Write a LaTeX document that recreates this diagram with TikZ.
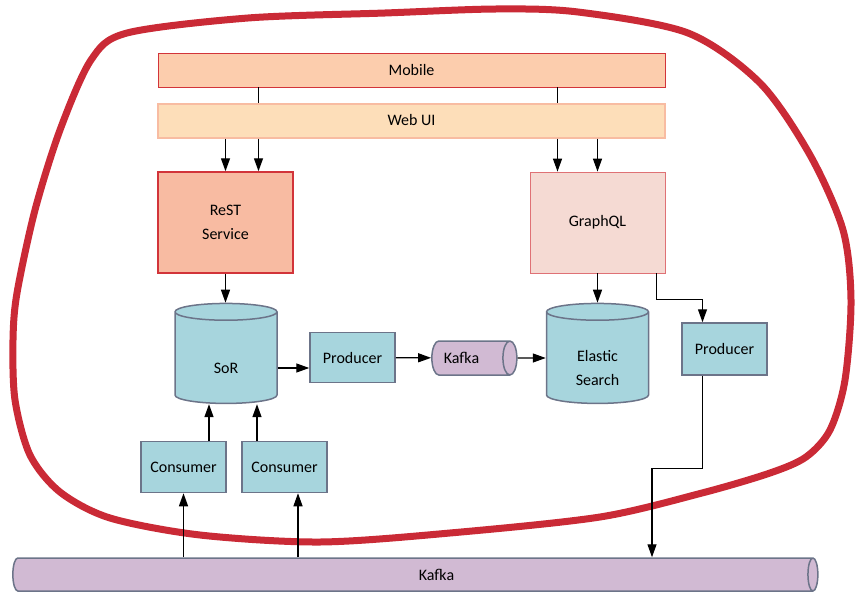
\documentclass[tikz,border=0pt]{standalone}
\usepackage{fontspec}
\setmainfont{Carlito}
\usetikzlibrary{positioning,shapes.geometric,arrows.meta,calc}

\definecolor{mobfill}{HTML}{FCCDAD}
\definecolor{webfill}{HTML}{FDDEB9}
\definecolor{webline}{HTML}{F8BCA2}
\definecolor{restfill}{HTML}{F8BBA2}
\definecolor{gqlfill}{HTML}{F5DAD3}
\definecolor{apiline}{HTML}{D2343A}
\definecolor{procfill}{HTML}{A7D5DD}
\definecolor{procline}{HTML}{6C7489}
\definecolor{topicfill}{HTML}{D1BAD3}
\definecolor{loopred}{HTML}{CA2A36}

\begin{document}
\begin{tikzpicture}[x=1pt,y=-1pt,
        font=\fontsize{16}{24}\selectfont,
        every node/.style={inner sep=0pt, align=center},
        uibar/.style={rectangle, minimum width=507pt, minimum height=34pt},
        apibox/.style={rectangle, minimum width=135pt, minimum height=101pt},
        procbox/.style={rectangle, draw=procline, fill=procfill, line width=1.5pt,
                        minimum width=85pt, minimum height=51pt},
        store/.style={cylinder, shape border rotate=90, aspect=0.28, draw=procline,
                      fill=procfill, line width=1.5pt, text width=60pt, text height=60pt,
                      text depth=0pt, minimum width=102pt, minimum height=100pt},
        topic/.style={cylinder, draw=procline, fill=topicfill, line width=1.5pt, text depth=0pt},
        arr/.style={-{Triangle[length=13pt,width=9pt]}, line width=1.3pt},
        link/.style={line width=1pt}]
  \useasboundingbox (0,0) rectangle (859,602);

  % the boundary
  \draw[loopred, line width=7pt] plot[smooth cycle, tension=0.5] coordinates {
      (17,293) (35,210) (60,130) (91,60) (127,33) (248,18) (385,13) (496,9)
      (578,12) (688,33) (760,83) (810,155) (843,230) (851,300) (845,380)
      (830,430) (806,457) (770,473) (702,493) (600,517) (450,533) (320,542)
      (200,535) (110,518) (60,492) (30,455) (15,400) (13,340)};

  \node[uibar, draw=apiline, fill=mobfill, line width=0.8pt] (mob) at (411.5,70) {Mobile};
  \node[uibar, draw=webline, fill=webfill, line width=2pt] (web) at (411.5,120.5) {Web UI};
  \node[apibox, draw=apiline, fill=restfill, line width=1.5pt] (rest) at (225.5,222.5) {ReST\\Service};
  \node[apibox, draw=apiline!70, fill=gqlfill, line width=0.8pt] (gql) at (597.5,222.5) {GraphQL};

  \node[store, label={[yshift=-10pt]center:SoR}] (sor) at (226,358) {};
  \node[procbox, minimum height=50pt] (prod) at (352.5,357.5) {Producer};
  \node[topic, aspect=0.41, text height=34pt, minimum width=34pt, minimum height=85pt,
        label={[xshift=-9pt]center:Kafka}] (kfk) at (470.5,358) {};
  \node[store, label={[yshift=-10pt]center:Elastic\\Search}] (es) at (597.5,358) {};
  \node[procbox, minimum height=52pt] (prod2) at (724.5,349) {Producer};

  \node[procbox] (cons1) at (183.5,467) {Consumer};
  \node[procbox] (cons2) at (284.5,467) {Consumer};
  \node[topic, aspect=0.3, text height=33pt, minimum width=33pt, minimum height=805pt,
        label={[xshift=24pt]center:Kafka}] (bus) at (412.5,574.5) {};

  % clients
  \draw[link] ([xshift=33pt]rest.north |- mob.south) -- ([xshift=33pt]rest.north |- web.north);
  \draw[link] ([xshift=-40pt]gql.north |- mob.south) -- ([xshift=-40pt]gql.north |- web.north);
  \draw[arr] (rest.north |- web.south) -- (rest.north);
  \draw[arr] ([xshift=33pt]rest.north |- web.south) -- ([xshift=33pt]rest.north);
  \draw[arr] ([xshift=-40pt]gql.north |- web.south) -- ([xshift=-40pt]gql.north);
  \draw[arr] (gql.north |- web.south) -- (gql.north);

  % write side
  \draw[arr] (rest.south) -- (rest.south |- sor.north);
  \draw[arr] ([yshift=-10pt]sor.east) -- ([yshift=-10pt]sor.east -| prod.west);
  \draw[arr] (prod) -- (kfk);
  \draw[arr] (kfk) -- (es);

  % read side
  \draw[arr] (gql.south) -- (gql.south |- es.north);
  \draw[arr] ([xshift=-9pt]gql.south east) -- ++(0,26) -| ([xshift=-22pt]prod2.north);
  \draw[arr] ([xshift=-22pt]prod2.south) -- ++(0,93) -| ([xshift=239.5pt]bus.north);

  % consumers
  \draw[arr] (cons1.south |- bus.north) -- (cons1.south);
  \draw[arr] ([xshift=13.5pt]cons2.south |- bus.north) -- ([xshift=13.5pt]cons2.south);
  \draw[arr] ([xshift=25.5pt]cons1.north) -- ([xshift=25.5pt]cons1.north |- sor.south);
  \draw[arr] ([xshift=-27.5pt]cons2.north) -- ([xshift=-27.5pt]cons2.north |- sor.south);
\end{tikzpicture}
\end{document}
